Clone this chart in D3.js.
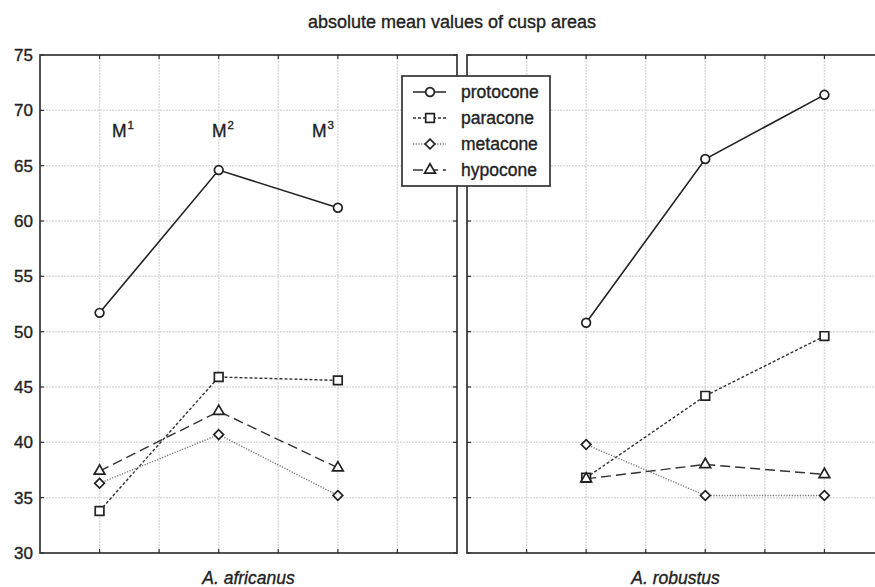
<!DOCTYPE html>
<html><head><meta charset="utf-8">
<script src="https://cdn.jsdelivr.net/npm/d3@7"></script>
<style>body{margin:0;background:#fff}svg{display:block;font-family:"Liberation Sans",Arial,sans-serif}
text{stroke:#222;stroke-width:0.35px;fill:#222}</style>
</head><body><svg id="c" width="875" height="587"></svg>
<script>
const title = "absolute mean values of cusp areas";
const molars = ["M1","M2","M3"];
const panels = ["A. africanus","A. robustus"];
const yTicks = [30,35,40,45,50,55,60,65,70,75];
const seriesNames = ["protocone","paracone","metacone","hypocone"];
const africanus_protocone = [51.7,64.6,61.2];
const africanus_paracone  = [33.8,45.9,45.6];
const africanus_metacone  = [36.3,40.7,35.2];
const africanus_hypocone  = [37.4,42.8,37.7];
const robustus_protocone  = [50.8,65.6,71.4];
const robustus_paracone   = [36.8,44.2,49.6];
const robustus_metacone   = [39.8,35.2,35.2];
const robustus_hypocone   = [36.7,38.0,37.1];

(function(){
const data = [
  {panel:panels[0], values:{protocone:africanus_protocone,paracone:africanus_paracone,metacone:africanus_metacone,hypocone:africanus_hypocone}},
  {panel:panels[1], values:{protocone:robustus_protocone,paracone:robustus_paracone,metacone:robustus_metacone,hypocone:robustus_hypocone}}
];
const style = {
  protocone:{dash:null, color:"#222", sym:d3.symbolCircle, size:60},
  paracone:{dash:"3,2", color:"#333", sym:d3.symbolSquare, size:75},
  metacone:{dash:"1.2,1.5", color:"#777", sym:d3.symbolDiamond2, size:60},
  hypocone:{dash:"10,5", color:"#333", sym:d3.symbolTriangle, size:50}
};

const svg = d3.select("#c");
const yTop = 55, yBot = 553;
const y = d3.scaleLinear().domain([30,75]).range([yBot, yTop]);
const xs = [
  d3.scaleLinear().domain([0.5,4.0]).range([40,457]),
  d3.scaleLinear().domain([0,3.5]).range([467,884])
];
const gridX = [[1,1.5,2,2.5,3,3.5],[0.5,1,1.5,2,2.5,3]];

svg.append("text").attr("x",452).attr("y",28).attr("text-anchor","middle")
  .attr("font-size",18).text(title);

xs.forEach((x,i)=>{
  const [x0,x1] = x.range();
  const g = svg.append("g");
  g.selectAll(".gy").data(yTicks.slice(1,-1)).join("line")
    .attr("x1",x0).attr("x2",x1).attr("y1",d=>y(d)).attr("y2",d=>y(d))
    .attr("stroke","#dcdcdc").attr("stroke-width",1.5).attr("stroke-dasharray","2,1");
  g.selectAll(".gx").data(gridX[i]).join("line")
    .attr("x1",d=>x(d)).attr("x2",d=>x(d)).attr("y1",yTop).attr("y2",yBot)
    .attr("stroke","#dcdcdc").attr("stroke-width",1.5).attr("stroke-dasharray","2,1");
  g.selectAll(".tt").data(gridX[i]).join("line")
    .attr("x1",d=>x(d)).attr("x2",d=>x(d)).attr("y1",yTop).attr("y2",yTop+4)
    .attr("stroke","#333").attr("stroke-width",1.2);
  g.selectAll(".tb").data(gridX[i]).join("line")
    .attr("x1",d=>x(d)).attr("x2",d=>x(d)).attr("y1",yBot).attr("y2",yBot-4)
    .attr("stroke","#333").attr("stroke-width",1.2);
  const sideX = i===0 ? [x0, x1] : [x0];
  sideX.forEach((sx,k)=>{
    const dir = (i===0 && k===1) ? -1 : 1;
    g.selectAll(null).data(yTicks).join("line")
      .attr("x1",sx).attr("x2",sx+dir*4).attr("y1",d=>y(d)).attr("y2",d=>y(d))
      .attr("stroke","#333").attr("stroke-width",1.2);
  });
  g.append("rect").attr("x",x0).attr("y",yTop).attr("width",x1-x0).attr("height",yBot-yTop)
    .attr("fill","none").attr("stroke","#333").attr("stroke-width",1.7);
  svg.append("text").attr("x",(x0+x1)/2).attr("y",584).attr("text-anchor","middle")
    .attr("font-size",17.5).attr("font-style","italic").text(data[i].panel);

  seriesNames.forEach(s=>{
    const vals = data[i].values[s];
    const pts = vals.map((v,j)=>[x(j+1), y(v)]);
    const st = style[s];
    g.append("path").attr("d",d3.line()(pts)).attr("fill","none")
      .attr("stroke",st.color).attr("stroke-width",s==="protocone"?1.6:1.4)
      .attr("stroke-dasharray",st.dash);
    g.selectAll(null).data(pts).join("path")
      .attr("transform",d=>`translate(${d[0]},${d[1]})`)
      .attr("d",d3.symbol().type(st.sym).size(st.size)())
      .attr("fill","#fff").attr("stroke","#222").attr("stroke-width",1.7);
  });
});

svg.selectAll(".yl").data(yTicks).join("text")
  .attr("x",33).attr("y",d=>y(d)+6).attr("text-anchor","end")
  .attr("font-size",17).text(d=>d);

const molarX = [112,212,312];
molars.forEach((m,i)=>{
  const t = svg.append("text").attr("x",molarX[i]).attr("y",137).attr("font-size",17.5);
  t.append("tspan").text(m[0]);
  t.append("tspan").attr("font-size",11.5).attr("dy",-8).attr("dx",1).text(m.slice(1));
});

const lg = svg.append("g");
lg.append("rect").attr("x",402).attr("y",76).attr("width",148).attr("height",110)
  .attr("fill","#fff").attr("stroke","#333").attr("stroke-width",1.7);
const legY = [92,118,144,170];
seriesNames.forEach((s,i)=>{
  const st = style[s];
  lg.append("line").attr("x1",413).attr("x2",446).attr("y1",legY[i]).attr("y2",legY[i])
    .attr("stroke",st.color).attr("stroke-width",1.4).attr("stroke-dasharray",st.dash);
  lg.append("path").attr("transform",`translate(430,${legY[i]})`)
    .attr("d",d3.symbol().type(st.sym).size(st.size)())
    .attr("fill","#fff").attr("stroke","#222").attr("stroke-width",1.7);
  lg.append("text").attr("x",461).attr("y",legY[i]+6).attr("font-size",17.5).text(s);
});
})();
</script></body></html>
